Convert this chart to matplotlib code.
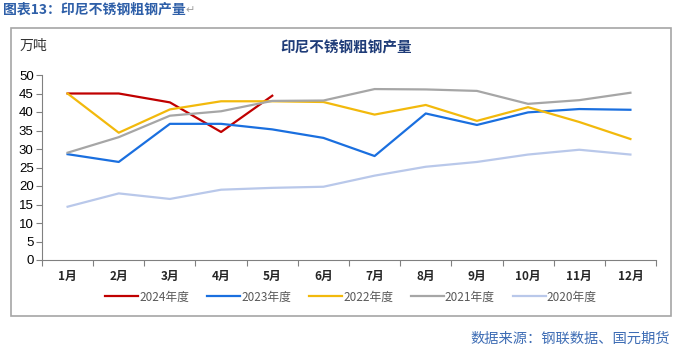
import matplotlib.pyplot as plt
from matplotlib.patches import Rectangle

plt.rcParams['font.family'] = ['Noto Sans CJK SC', 'DejaVu Sans']

months = ['1月', '2月', '3月', '4月', '5月', '6月', '7月', '8月', '9月', '10月', '11月', '12月']
y2024 = [45.0, 45.0, 42.6, 34.6, 44.4]
y2023 = [28.6, 26.5, 36.8, 36.8, 35.3, 33.0, 28.1, 39.6, 36.5, 39.9, 40.8, 40.6]
y2022 = [45.0, 34.4, 40.7, 42.9, 42.9, 42.7, 39.3, 41.9, 37.6, 41.3, 37.3, 32.7]
y2021 = [29.0, 33.2, 39.0, 40.2, 43.0, 43.1, 46.2, 46.1, 45.7, 42.2, 43.2, 45.2]
y2020 = [14.4, 18.0, 16.5, 19.0, 19.5, 19.8, 22.8, 25.2, 26.5, 28.5, 29.8, 28.5]

series = [
    ('2024年度', y2024, '#C00000'),
    ('2023年度', y2023, '#1A6FDF'),
    ('2022年度', y2022, '#F2B90C'),
    ('2021年度', y2021, '#A6A6A6'),
    ('2020年度', y2020, '#B9C8EA'),
]

W, H = 673, 354
fig = plt.figure(figsize=(W / 100, H / 100), dpi=100)

# outer frame of the chart
fig.patches.append(Rectangle((10.5 / W, 1 - 316 / H), (671 - 10.5) / W, (316 - 27.5) / H,
                             transform=fig.transFigure, fill=False,
                             edgecolor='#A6A6A6', linewidth=1.2))

ax = fig.add_axes([42 / W, 1 - 260 / H, (656 - 42) / W, (260 - 75) / H])

x = list(range(1, 13))
for name, vals, color in series:
    ax.plot(x[:len(vals)], vals, color=color, linewidth=1.6, label=name)

ax.set_xlim(0.5, 12.5)
ax.set_ylim(0, 50)
ax.set_yticks(range(0, 51, 5))
ax.set_xticks([i + 0.5 for i in range(0, 13)])
ax.set_xticklabels([])
ax.set_xticks(x, minor=True)
ax.set_xticklabels(months, minor=True, fontsize=8.5, fontweight='bold', color='#262626')
ax.tick_params(axis='x', which='major', length=4, color='#808080', direction='out')
ax.tick_params(axis='x', which='minor', length=0, pad=7)
ax.tick_params(axis='y', length=4, color='#808080', direction='out', pad=2)
for lab in ax.get_yticklabels():
    lab.set_family(['Liberation Sans', 'DejaVu Sans'])
    lab.set_fontsize(9.5)
for s in ['top', 'right']:
    ax.spines[s].set_visible(False)
for s in ['left', 'bottom']:
    ax.spines[s].set_color('#808080')

leg = ax.legend(loc='center', bbox_to_anchor=(351 / W, 1 - 297 / H), bbox_transform=fig.transFigure,
                ncol=5, frameon=False, fontsize=8.5, handlelength=2.8, handletextpad=0.1,
                columnspacing=1.5)
for t in leg.get_texts():
    t.set_color('#595959')

t1 = fig.text(3 / W, 1 - 10 / H, '图表13：印尼不锈钢粗钢产量', color='#2E5FA8', fontsize=10,
              fontweight='bold', ha='left', va='center')
fig.canvas.draw()
bb = t1.get_window_extent()
fig.text(bb.x1 / W, 1 - 10 / H, '↵', color='#A0A0A0', fontsize=8,
         family=['DejaVu Sans'], ha='left', va='center')

fig.text(20 / W, 1 - 46 / H, '万吨', color='#333333', fontsize=10, ha='left', va='center')
fig.text(346 / W, 1 - 47 / H, '印尼不锈钢粗钢产量', color='#1F3C78', fontsize=10.5,
         fontweight='bold', ha='center', va='center')
fig.text(670 / W, 1 - 339 / H, '数据来源：钢联数据、国元期货', color='#3E6DB5', fontsize=10.3,
         ha='right', va='center')

fig.savefig('out.png', dpi=100)
